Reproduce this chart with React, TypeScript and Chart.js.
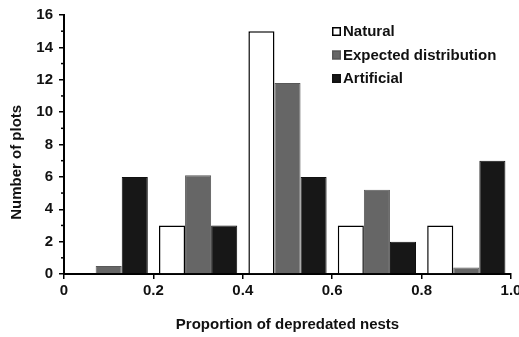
import React, { useEffect, useRef } from "react";
import { Chart, registerables } from "chart.js";

Chart.register(...registerables);

const binCenters = [0.1, 0.3, 0.5, 0.7, 0.9];
const naturalCounts = [0, 3, 15, 3, 3];
const expectedCounts = [0.5, 6.1, 11.8, 5.2, 0.4];
const artificialCounts = [6, 3, 6, 2, 7];
const seriesNames = ["Natural", "Expected distribution", "Artificial"];
const xTickLabels = ["0", "0.2", "0.4", "0.6", "0.8", "1.0"];
const yMinorTicks = [1, 3, 5, 7, 9, 11, 13, 15];
const xTitle = "Proportion of depredated nests";
const yTitle = "Number of plots";

const FONT = "'Liberation Sans', Arial, sans-serif";
const FS = 15;

const legendPlugin = {
  id: "customLegend",
  afterDatasetsDraw(chart: any) {
    const ctx = chart.ctx;
    ctx.save();
    const x0 = 332;
    const y0 = 27;
    const rowH = 23.5;
    const box = 9;
    chart.data.datasets.forEach((ds: any, i: number) => {
      const y = y0 + i * rowH;
      ctx.fillStyle = ds.backgroundColor;
      ctx.fillRect(x0, y, box, box);
      ctx.lineWidth = 1.5;
      ctx.strokeStyle = ds.borderColor;
      ctx.strokeRect(x0 + 0.75, y + 0.75, box - 1.5, box - 1.5);
      ctx.fillStyle = "#111";
      ctx.font = `bold ${FS}px ${FONT}`;
      ctx.textBaseline = "middle";
      ctx.textAlign = "left";
      ctx.fillText(ds.label, x0 + box + 2, y + box / 2 + 0.5);
    });
    ctx.restore();
  },
};

const axisDecorPlugin = {
  id: "axisDecor",
  afterDraw(chart: any) {
    const y = chart.scales.y;
    const ctx = chart.ctx;
    ctx.save();
    ctx.strokeStyle = "#000";
    ctx.lineWidth = 1.5;
    yMinorTicks.forEach((v) => {
      const py = y.getPixelForValue(v);
      ctx.beginPath();
      ctx.moveTo(y.right - 3, py);
      ctx.lineTo(y.right, py);
      ctx.stroke();
    });
    // y-axis title, positioned slightly below centre as in the original
    ctx.translate(17, y.getPixelForValue(6.9));
    ctx.rotate(-Math.PI / 2);
    ctx.fillStyle = "#111";
    ctx.font = `bold ${FS}px ${FONT}`;
    ctx.textAlign = "center";
    ctx.textBaseline = "middle";
    ctx.fillText(yTitle, 0, 0);
    ctx.restore();
  },
};

export default function App() {
  const ref = useRef<HTMLCanvasElement | null>(null);
  useEffect(() => {
    if (!ref.current) return;
    const toPts = (arr: number[]) => binCenters.map((x, i) => ({ x, y: arr[i] }));
    const chart = new Chart(ref.current, {
      type: "bar",
      data: {
        datasets: [
          {
            label: seriesNames[0],
            data: toPts(naturalCounts),
            backgroundColor: "#ffffff",
            borderColor: "#000000",
            borderWidth: 1.5,
          },
          {
            label: seriesNames[1],
            data: toPts(expectedCounts),
            backgroundColor: "#666666",
            borderColor: "#585858",
            borderWidth: 1,
          },
          {
            label: seriesNames[2],
            data: toPts(artificialCounts),
            backgroundColor: "#171717",
            borderColor: "#111111",
            borderWidth: 1,
          },
        ],
      },
      options: {
        responsive: false,
        animation: false,
        categoryPercentage: 0.875,
        barPercentage: 1,
        layout: { padding: { top: 15, right: 8, left: 0, bottom: 0 } },
        plugins: {
          legend: { display: false },
          tooltip: { enabled: false },
        },
        scales: {
          x: {
            type: "linear",
            min: 0,
            max: 1,
            offset: false,
            grid: {
              display: true,
              offset: false,
              drawOnChartArea: false,
              drawTicks: true,
              tickLength: 5,
              color: "#000",
              lineWidth: 1.5,
            },
            border: { display: true, color: "#000", width: 2 },
            ticks: {
              stepSize: 0.2,
              padding: 3,
              color: "#111",
              font: { family: FONT, size: FS, weight: "bold" },
              maxRotation: 0,
              callback: (_v: any, i: number) => xTickLabels[i],
            },
            title: {
              display: true,
              text: xTitle,
              color: "#111",
              font: { family: FONT, size: FS, weight: "bold" },
              padding: { top: 4, bottom: 3 },
            },
            afterFit: (s: any) => {
              s.height = 63;
              s.paddingLeft = 0;
              s.paddingRight = 0;
            },
          },
          y: {
            min: 0,
            max: 16,
            grid: {
              display: true,
              drawOnChartArea: false,
              drawTicks: true,
              tickLength: 5,
              color: "#000",
              lineWidth: 1.5,
            },
            border: { display: true, color: "#000", width: 2 },
            ticks: {
              stepSize: 2,
              padding: 6,
              color: "#111",
              font: { family: FONT, size: FS, weight: "bold" },
            },
            title: { display: false },
            afterFit: (s: any) => {
              s.width = 64;
            },
          },
        },
      },
      plugins: [legendPlugin, axisDecorPlugin],
    } as any);
    return () => chart.destroy();
  }, []);
  return (
    <div style={{ position: "absolute", left: 0, top: 0, width: 519, height: 337, background: "#fff" }}>
      <canvas ref={ref} width={519} height={337} />
    </div>
  );
}
